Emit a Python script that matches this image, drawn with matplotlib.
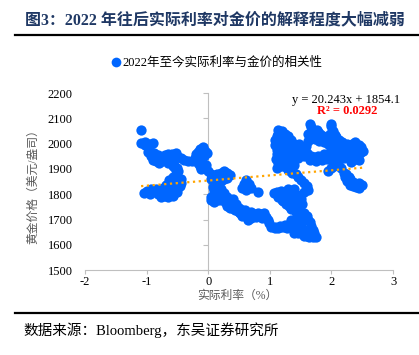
import numpy as np
import matplotlib
matplotlib.use("Agg")
import matplotlib.pyplot as plt
from matplotlib.lines import Line2D

plt.rcParams['font.family'] = ['Liberation Serif', 'Noto Sans CJK SC', 'DejaVu Sans']
plt.rcParams['axes.unicode_minus'] = False

# 实际利率 (%) 与 金价 (美元/盎司)
real_rate = [
    -1.04, -0.99, -0.93, -0.88, -0.82, -0.77, -0.71, -0.65, -0.60, -0.55, -0.50, -0.46,
    -0.44, -0.48, -0.53, -0.58, -0.63, -0.68, -0.73, -0.78, -0.70, -0.62, -0.56,
    -0.95, -0.85, -0.75, -0.65, -0.58, -0.50, -0.60, -0.52,
    -0.57, -0.52, -0.49, -0.54, -0.58, -0.60, -0.55, -0.50, -0.53, -0.59, -0.64, -0.69,
    -0.75, -0.80, -0.84, -0.82, -0.88, -0.93, -0.97, -0.96, -1.02, -1.09, -1.03, -0.96,
    -0.90, -1.09,
    -0.85, -0.75, -0.70, -0.65, -0.60, -0.65, -0.55, -0.50, -0.50, -0.45, -0.52, -0.90,
    -0.45, -0.39, -0.33, -0.27, -0.22, -0.19, -0.16, -0.13, -0.09, -0.05, -0.02, -0.07,
    -0.12, -0.16, -0.14, -0.11, -0.05, 0.00, 0.04, 0.09, 0.12,
    -0.18, -0.08, -0.10, -0.04, -0.20, -0.12,
    0.15, 0.20, 0.25, 0.30, 0.35, 0.31, 0.25, 0.20, 0.16, 0.13, 0.10, 0.09, 0.04, 0.05,
    0.10, 0.15, 0.20, 0.24, 0.29, 0.35, 0.40, 0.42,
    0.05, 0.10, 0.18, 0.25, 0.20, 0.15, 0.25, 0.30, 0.18, 0.08,
    0.30, 0.35, 0.45, 0.40, 0.50, 0.55, 0.27,
    0.38, 0.43, 0.48, 0.54, 0.59, 0.63, 0.65, 0.64, 0.69, 0.71, 0.76, 0.81, 0.86, 0.91,
    0.94, 0.97, 0.99, 1.02, 1.08, 1.14, 1.20, 1.24,
    0.45, 0.52, 0.58, 0.70, 0.78, 0.88, 0.50,
    0.54, 0.58, 0.62, 0.66, 0.70, 0.62, 0.81,
    1.08, 1.16, 1.24, 1.30, 1.35, 1.38, 1.40, 1.46, 1.52, 1.56, 1.60, 1.64, 1.70, 1.75,
    1.72, 1.70, 1.67, 1.65, 1.62, 1.58, 1.56, 1.50, 1.46, 1.42, 1.40,
    1.48, 1.52, 1.55, 1.60, 1.45, 1.50, 1.62, 1.55, 1.35, 1.28,
    1.35, 1.31, 1.27, 1.22, 1.19, 1.13, 1.07, 1.12, 1.18, 1.24, 1.30, 1.36, 1.42, 1.46,
    1.50, 1.51, 1.56, 1.62, 1.60, 1.56, 1.50, 1.46, 1.42, 1.36, 1.30, 1.26, 1.20, 1.14,
    1.25, 1.32, 1.38, 1.30, 1.38, 1.45, 1.40,
    1.10, 1.12, 1.11, 1.09, 1.08, 1.12, 1.13, 1.19, 1.24, 1.29, 1.34, 1.30, 1.25, 1.18,
    1.16, 1.21, 1.22, 1.26, 1.18, 1.15, 1.30, 1.35, 1.28, 1.33, 1.24, 1.36, 1.31, 1.40,
    1.45,
    1.14, 1.20, 1.27, 1.15, 1.22, 1.28, 1.14, 1.20, 1.32, 1.25, 1.38, 1.40, 1.35, 1.12,
    1.41, 1.46, 1.51, 1.56, 1.61, 1.67, 1.72, 1.78, 1.84, 1.90, 1.95, 2.00, 2.05, 2.09,
    2.05, 1.98, 1.92, 1.85, 1.78, 1.70, 1.62, 1.52, 1.94, 1.99, 2.04, 2.10,
    1.45, 1.55, 1.65, 1.75, 1.88, 1.98, 2.02, 1.58, 1.48,
    2.15, 2.20, 2.22, 2.26, 2.30, 2.35, 2.40, 2.45, 2.49, 2.45, 2.38, 2.30, 2.24,
    2.35, 2.42, 2.28,
    2.32, 2.37, 2.42, 2.46, 2.51, 2.48, 2.44, 2.39, 2.34, 2.30, 2.27, 2.22, 2.17, 2.12,
    2.08, 2.05, 2.03, 2.00, 1.99, 2.21, 2.16, 2.11, 2.17, 2.26,
    2.25, 2.35, 2.40, 2.30, 2.40, 2.45, 2.20, 2.15,
    1.94, 1.87, 1.82, 1.78, 1.73, 1.70, 1.67, 1.66, 1.74, 1.80, 1.88, 1.95, 2.02, 2.08,
    1.62, 1.68, 1.76, 1.85, 1.92, 1.98, 2.00, 1.62,
]
gold = [
    1805, 1812, 1820, 1812, 1800, 1790, 1795, 1800, 1806, 1812, 1822, 1832,
    1846, 1858, 1862, 1855, 1855, 1838, 1826, 1818, 1812, 1822, 1835,
    1800, 1822, 1805, 1790, 1795, 1808, 1828, 1835,
    1870, 1880, 1892, 1903, 1912, 1925, 1938, 1950, 1963, 1960, 1945, 1935,
    1930, 1922, 1940, 1956, 1962, 1952, 1965, 1982, 1995, 2002, 2008, 1998,
    2002, 2052,
    1930, 1945, 1955, 1960, 1940, 1925, 1915, 1905, 1870, 1860, 1845, 1935,
    1944, 1936, 1930, 1932, 1942, 1953, 1968, 1980, 1986, 1972, 1962, 1952,
    1940, 1925, 1910, 1898, 1902, 1890, 1880, 1868, 1858,
    1935, 1960, 1920, 1915, 1960, 1962,
    1880, 1884, 1890, 1882, 1876, 1866, 1862, 1852, 1842, 1830, 1816, 1804, 1790, 1776,
    1770, 1800, 1792, 1782, 1772, 1770, 1765, 1756,
    1860, 1845, 1865, 1875, 1820, 1815, 1805, 1790, 1778, 1830,
    1755, 1745, 1760, 1780, 1728, 1715, 1770,
    1746, 1738, 1734, 1738, 1738, 1726, 1712, 1698, 1706, 1718, 1722, 1725, 1720, 1726,
    1712, 1700, 1686, 1672, 1668, 1665, 1672, 1680,
    1750, 1725, 1720, 1730, 1710, 1705, 1745,
    1824, 1842, 1857, 1840, 1824, 1818, 1810,
    1672, 1676, 1672, 1680, 1686, 1665, 1646, 1648, 1648, 1645, 1636, 1630, 1632, 1632,
    1645, 1660, 1674, 1690, 1700, 1712, 1726, 1722, 1711, 1728, 1750,
    1740, 1760, 1700, 1715, 1690, 1670, 1660, 1635, 1700, 1665,
    1740, 1752, 1760, 1772, 1778, 1790, 1804, 1808, 1812, 1805, 1798, 1790, 1780, 1770,
    1782, 1796, 1808, 1818, 1832, 1845, 1856, 1868, 1878, 1884, 1894, 1906, 1910, 1922,
    1785, 1775, 1760, 1820, 1808, 1795, 1820,
    1940, 1958, 1976, 1996, 2015, 2032, 2052, 2048, 2040, 2030, 2016, 2002, 1995, 1985,
    2005, 2020, 1965, 1950, 1945, 1930, 1960, 1975, 1935, 1920, 1925, 1950, 1985, 2000,
    1990,
    2040, 2035, 2015, 1990, 1985, 1975, 1965, 1955, 1945, 1935, 1930, 1915, 1905, 1905,
    1955, 1968, 1988, 1976, 1962, 1952, 1946, 1950, 1946, 1950, 1948, 1955, 1962, 1985,
    1942, 1938, 1940, 1934, 1940, 1940, 1955, 1978, 1892, 1902, 1912, 1922,
    1945, 1950, 1935, 1930, 1958, 1965, 1930, 1990, 1998,
    1905, 1885, 1870, 1852, 1838, 1832, 1830, 1826, 1838, 1845, 1840, 1860, 1878,
    1850, 1840, 1870,
    1928, 1938, 1952, 1962, 1970, 1985, 1996, 2006, 1998, 1990, 1980, 1996, 2006, 2015,
    2026, 2036, 2050, 2068, 2078, 1942, 1952, 1958, 1972, 1960,
    2000, 1985, 1975, 1950, 1940, 1935, 1960, 1985,
    2030, 2030, 2040, 2044, 2034, 2050, 2064, 2076, 2020, 2012, 2008, 2000, 2000, 1998,
    2040, 2025, 2055, 2020, 2015, 2040, 2020, 2010,
]

# trend line as printed on the chart
slope = 20.243
intercept = 1854.1
x_ticks = [-2, -1, 0, 1, 2, 3]
y_ticks = [1500, 1600, 1700, 1800, 1900, 2000, 2100, 2200]

blue = '#0066FF'
grey_axis = '#BFBFBF'

fig = plt.figure(figsize=(4.19, 3.55), dpi=100)
ax = fig.add_axes([0.203, 0.239, 0.735, 0.499])

ax.scatter(real_rate, gold, s=55, color=blue, linewidths=0, zorder=3)

xs = np.array([min(real_rate), max(real_rate)])
ax.plot(xs, slope * xs + intercept, color='#FFA500', linestyle=(0, (1, 1.6)),
        linewidth=1.6, zorder=4)

ax.set_xlim(-2, 3)
ax.set_ylim(1500, 2200)
ax.set_xticks(x_ticks)
ax.set_yticks(y_ticks)
ax.set_xticklabels([str(t) for t in x_ticks])

# vertical axis line crosses at x = 0, labels sit at the far left
for side in ['top', 'right']:
    ax.spines[side].set_visible(False)
ax.spines['left'].set_position(('data', 0))
ax.spines['left'].set_color(grey_axis)
ax.spines['bottom'].set_color(grey_axis)
ax.tick_params(axis='y', direction='out', length=3.5, color=grey_axis, labelleft=False)
ax.tick_params(axis='x', direction='out', length=3, color=grey_axis, labelsize=9, pad=1)

sec = ax.secondary_yaxis('left')
sec.spines['left'].set_visible(False)
sec.set_yticks(y_ticks)
sec.tick_params(length=0, labelsize=9, pad=9)

fig.text(0.079, 0.483, '黄金价格（美元/盎司）', rotation=90, ha='center', va='center',
         fontsize=8.5, color='#595959')
fig.text(0.566, 0.166, '实际利率（%）', ha='center', va='center', fontsize=8.5,
         color='#595959')

# equation and R²
ax.text(1.023, 0.995, 'y = 20.243x + 1854.1', transform=ax.transAxes, ha='right',
        va='top', fontsize=9)
ax.text(0.85, 0.93, 'R² = 0.0292', transform=ax.transAxes, ha='center', va='top',
        fontsize=9, color='#FF0000', weight='bold')

handle = Line2D([], [], marker='o', linestyle='none', color=blue, markersize=7,
                markeredgewidth=0)
fig.legend([handle], ['2022年至今实际利率与金价的相关性'], loc='center',
           bbox_to_anchor=(0.515, 0.823), frameon=False, fontsize=9,
           handletextpad=0.0, handlelength=1.0, borderpad=0)

# title block and source
fig.text(0.06, 0.944, '图3：2022 年往后实际利率对金价的解释程度大幅减弱', fontsize=11.5,
         weight='bold', color='#1F3864', va='center')
fig.add_artist(Line2D([0.036, 1.0], [0.901, 0.901], color='black', linewidth=1.6,
                      transform=fig.transFigure))
fig.add_artist(Line2D([0.036, 1.0], [0.118, 0.118], color='black', linewidth=1.6,
                      transform=fig.transFigure))
fig.text(0.055, 0.07, '数据来源：Bloomberg，东吴证券研究所', fontsize=10.5, va='center')

fig.savefig('out.png', dpi=100, facecolor='white')
